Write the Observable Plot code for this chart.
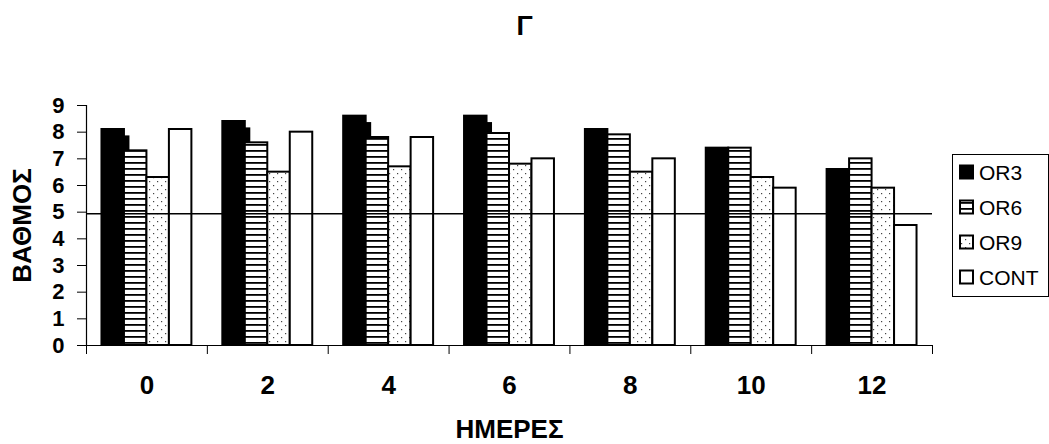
<!DOCTYPE html>
<html>
<head>
<meta charset="utf-8">
<script src="https://cdn.jsdelivr.net/npm/d3@7"></script>
<script src="https://cdn.jsdelivr.net/npm/@observablehq/plot@0.6"></script>
<style>
  body { margin: 0; background: #fff; font-family: Arial, "Liberation Sans", sans-serif; }
  #wrap { position: relative; width: 1049px; height: 444px; overflow: hidden; }
  #title { position: absolute; left: 0; top: 13px; width: 1049px; text-align: center;
           font-size: 27px; line-height: 27px; font-weight: bold; color: #000; }
  #chart { position: absolute; left: 0; top: 0; }
  #legend { position: absolute; left: 952px; top: 154px; }
</style>
</head>
<body>
<svg width="0" height="0" style="position:absolute">
  <defs>
    <pattern id="hstripe" patternUnits="userSpaceOnUse" width="6" height="6">
      <rect width="6" height="6" fill="#fff"/>
      <rect y="0" width="6" height="1.8" fill="#000"/>
    </pattern>
    <pattern id="dots" patternUnits="userSpaceOnUse" width="8" height="8">
      <rect width="8" height="8" fill="#fff"/>
      <rect x="1" y="1" width="1.2" height="1.2" fill="#444"/>
      <rect x="5" y="5" width="1.2" height="1.2" fill="#444"/>
    </pattern>
  </defs>
</svg>
<div id="wrap">
  <div id="chart"></div>
  <div id="title">Γ</div>
  <svg id="legend" width="97" height="143"></svg>
</div>
<script>
// ---- data ----
const days = ["0", "2", "4", "6", "8", "10", "12"];
const series = ["OR3", "OR6", "OR9", "CONT"];
const or3  = [8.1, 8.4, 8.6, 8.6, 8.1, 7.4, 6.6];
const or6  = [7.3, 7.6, 7.8, 7.95, 7.9, 7.4, 7.0];
const or9  = [6.3, 6.5, 6.7, 6.8, 6.5, 6.3, 5.9];
const cont = [8.1, 8.0, 7.8, 7.0, 7.0, 5.9, 4.5];
const threshold = 4.94;
const yTicks = [0, 1, 2, 3, 4, 5, 6, 7, 8, 9];
const title = "Γ";
const xLabel = "ΗΜΕΡΕΣ";
const yLabel = "ΒΑΘΜΟΣ";

// ---- layout helpers ----
const values = [or3, or6, or9, cont];
const fills = ["#000", "url(#hstripe)", "url(#dots)", "#fff"];
const pad = 0.128;
const bw = (1 - 2 * pad) / series.length;
const rowsFor = (j) => days.map((d, i) => ({
  day: d, s: series[j], v: values[j][i],
  x1: i + pad + j * bw, x2: i + pad + (j + 1) * bw
}));

const marks = [];
// shadow step of OR3 (rendering artifact seen in the reference)
marks.push(Plot.rectY(rowsFor(0), {x1: "x1", x2: "x2", y1: 0, y2: d => d.v - 0.24, fill: "#000", dx: 5.5}));
series.forEach((s, j) => {
  marks.push(Plot.rectY(rowsFor(j), {x1: "x1", x2: "x2", y1: 0, y2: "v",
    fill: fills[j], stroke: "#000", strokeWidth: 2}));
});
marks.push(Plot.ruleY([threshold], {x1: 0, x2: days.length, stroke: "#000", strokeWidth: 1.5}));
marks.push(Plot.ruleY([0], {x1: 0, x2: days.length, stroke: "#000", strokeWidth: 1.2}));
marks.push(Plot.ruleX([0], {y1: 0, y2: 9, stroke: "#000", strokeWidth: 1.2}));
marks.push(Plot.axisY({ticks: yTicks, tickSize: 9, tickPadding: 13, fontSize: 22, label: null}));
marks.push(Plot.axisY({ticks: [], tickSize: 0, label: yLabel,
  labelAnchor: "center", labelOffset: 74, labelArrow: "none"}));
marks.push(Plot.axisX({ticks: d3.range(0, days.length + 1), tickSize: 9, tickFormat: () => "", label: null}));
marks.push(Plot.axisX({ticks: days.map((d, i) => i + 0.5), tickSize: 0, tickPadding: 30,
  tickFormat: t => days[Math.floor(t)], label: xLabel, labelAnchor: "center", labelOffset: 92, labelArrow: "none"}));

const chart = Plot.plot({
  width: 1049, height: 444,
  marginLeft: 86, marginRight: 117, marginTop: 105, marginBottom: 99,
  x: {type: "linear", domain: [0, days.length]},
  y: {domain: [0, 9]},
  style: {fontFamily: 'Arial, "Liberation Sans", sans-serif', fontSize: "26px", fontWeight: "bold", color: "#000", background: "transparent"},
  marks
});
document.getElementById("chart").appendChild(chart);
document.getElementById("title").textContent = title;

// ---- legend ----
const lg = d3.select("#legend");
lg.append("rect").attr("x", 0.5).attr("y", 0.5).attr("width", 96).attr("height", 142)
  .attr("fill", "#fff").attr("stroke", "#000").attr("stroke-width", 1);
series.forEach((s, j) => {
  const cy = 18 + j * 35;
  lg.append("rect").attr("x", 8).attr("y", cy - 6.5).attr("width", 13).attr("height", 13)
    .attr("fill", fills[j]).attr("stroke", "#000").attr("stroke-width", 2);
  lg.append("text").attr("x", 27).attr("y", cy).attr("dy", "0.36em")
    .attr("font-size", 21).attr("font-family", 'Arial, "Liberation Sans", sans-serif')
    .text(s);
});
</script>
</body>
</html>
